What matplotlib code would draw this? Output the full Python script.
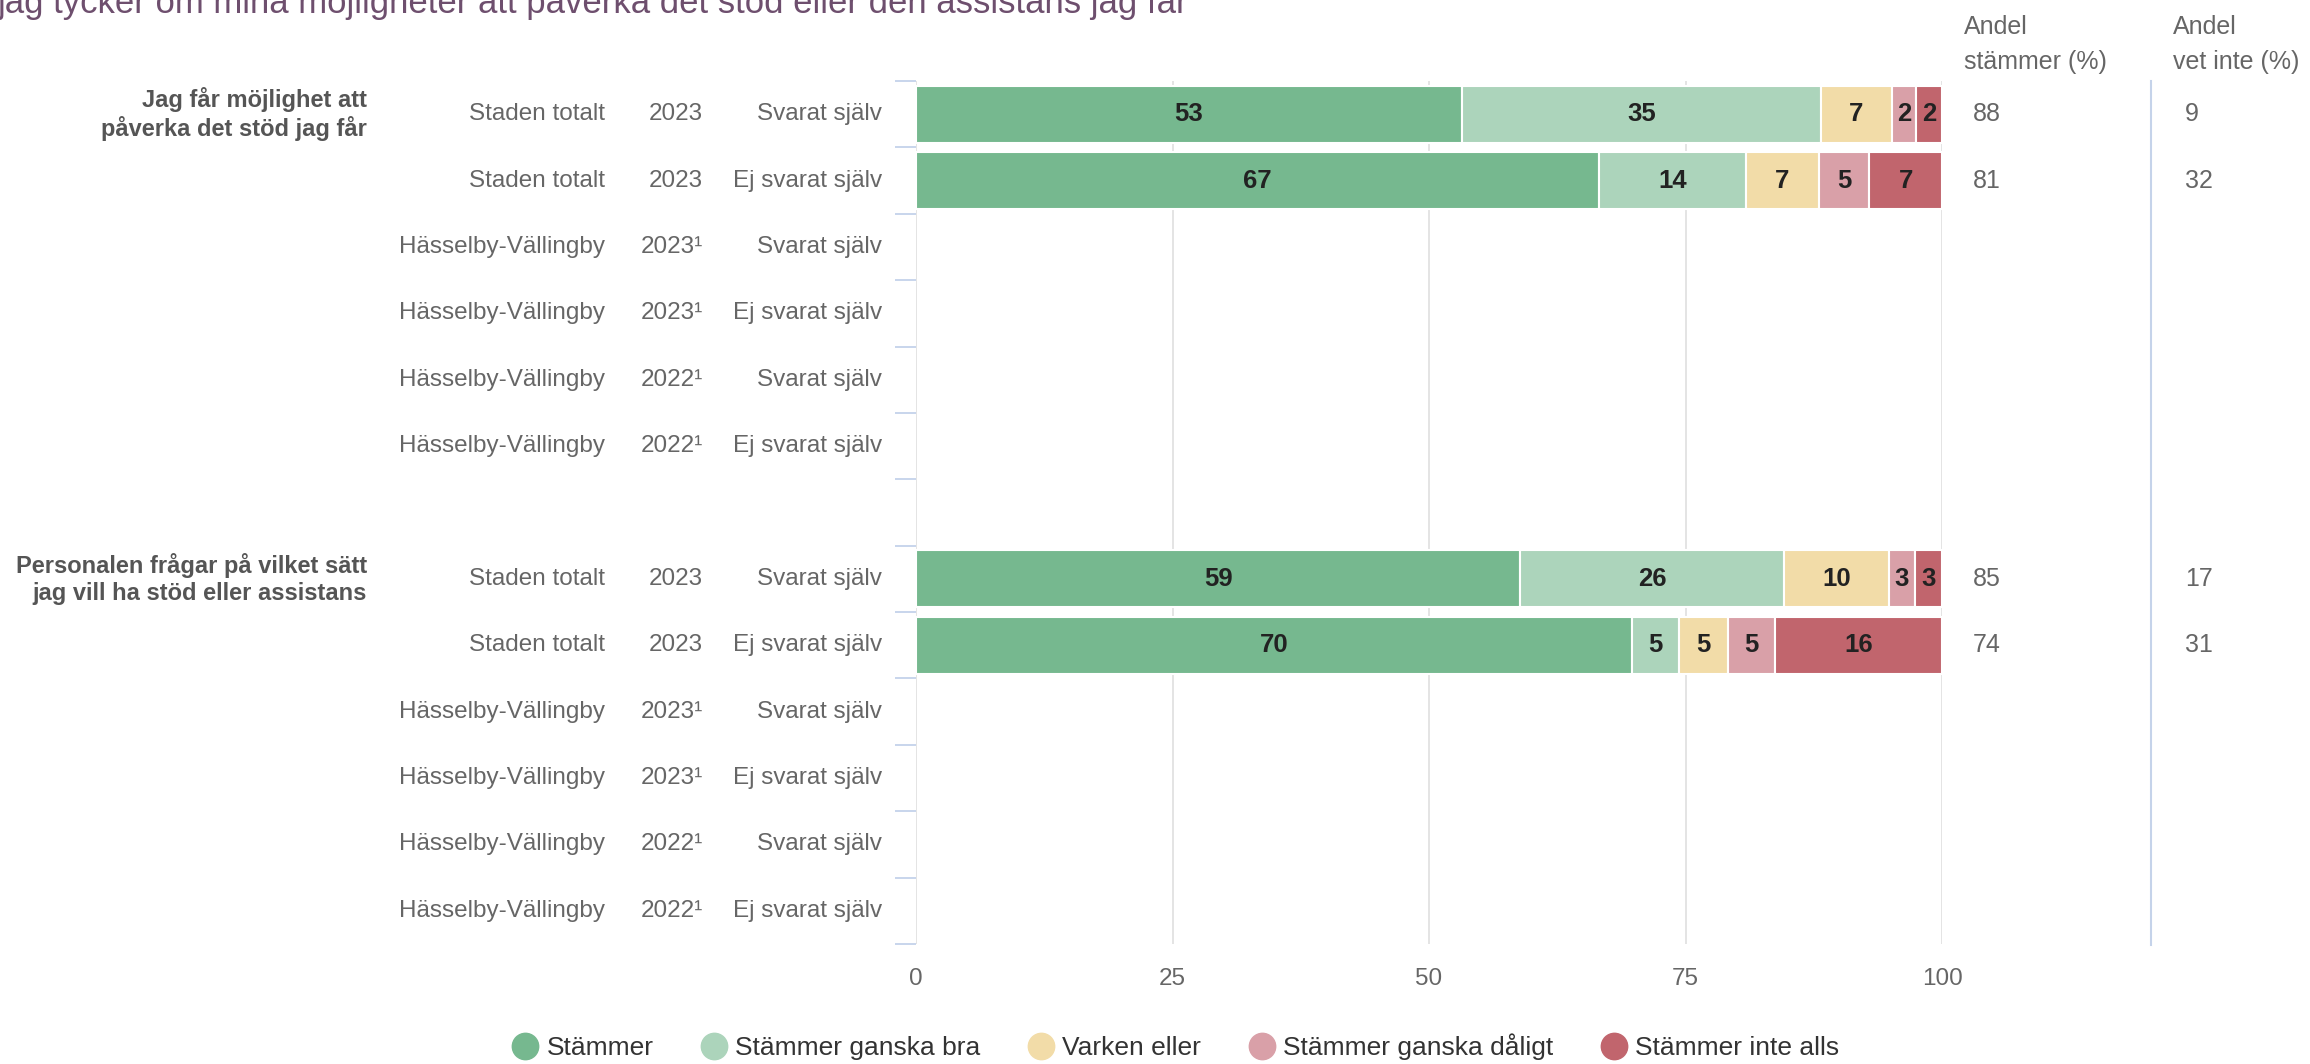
import numpy as np
import matplotlib
matplotlib.use("Agg")
import matplotlib.pyplot as plt
from matplotlib import transforms
from matplotlib.lines import Line2D

plt.rcParams["font.family"] = ["Liberation Sans", "DejaVu Sans"]

# data
title = "jag tycker om mina möjligheter att påverka det stöd eller den assistans jag får"
questions = ["Jag får möjlighet att\npåverka det stöd jag får",
             "Personalen frågar på vilket sätt\njag vill ha stöd eller assistans"]
areas = ["Staden totalt", "Staden totalt", "Hässelby-Vällingby", "Hässelby-Vällingby",
         "Hässelby-Vällingby", "Hässelby-Vällingby"]
years = ["2023", "2023", "2023¹", "2023¹", "2022¹", "2022¹"]
respondents = ["Svarat själv", "Ej svarat själv", "Svarat själv", "Ej svarat själv",
               "Svarat själv", "Ej svarat själv"]
categories = ["Stämmer", "Stämmer ganska bra", "Varken eller",
              "Stämmer ganska dåligt", "Stämmer inte alls"]
colors = ["#76b88f", "#acd4bb", "#f2dca8", "#d9a0a8", "#c1656d"]

# shares (%) per row, None = no data
q1_values = [[53.2, 35.0, 6.9, 2.4, 2.5],
             [66.6, 14.3, 7.1, 4.9, 7.1],
             None, None, None, None]
q2_values = [[58.9, 25.7, 10.2, 2.6, 2.6],
             [69.8, 4.6, 4.7, 4.6, 16.3],
             None, None, None, None]
q1_andel_stammer = [88, 81, None, None, None, None]
q2_andel_stammer = [85, 74, None, None, None, None]
q1_andel_vet_inte = [9, 32, None, None, None, None]
q2_andel_vet_inte = [17, 31, None, None, None, None]

values = [q1_values, q2_values]
andel_stammer = [q1_andel_stammer, q2_andel_stammer]
andel_vet_inte = [q1_andel_vet_inte, q2_andel_vet_inte]

W, H = 2310, 1064
fig = plt.figure(figsize=(W / 100, H / 100), dpi=100)
ax = fig.add_axes([916 / W, 1 - 944 / H, (1942 - 916) / W, (944 - 81) / H])

label_color = "#666666"
n_rows = len(areas)
slot = n_rows + 1  # one empty row between the groups
tr = transforms.blended_transform_factory(fig.transFigure, ax.transData)

for g, q in enumerate(questions):
    for i in range(n_rows):
        y = g * slot + i
        row = values[g][i]
        if row is not None:
            left = 0
            for v, c in zip(row, colors):
                ax.barh(y, v, left=left, height=0.86, color=c,
                        edgecolor="white", linewidth=1.5, zorder=3)
                ax.text(left + v / 2, y, f"{v:.0f}", ha="center", va="center",
                        fontsize=18.5, fontweight="bold", color="#222222", zorder=4)
                left += v
        # row labels
        ax.text(605 / W, y, areas[i], transform=tr, ha="right", va="center",
                fontsize=17.5, color=label_color)
        ax.text(703 / W, y, years[i], transform=tr, ha="right", va="center",
                fontsize=17.5, color=label_color)
        ax.text(882 / W, y, respondents[i], transform=tr, ha="right", va="center",
                fontsize=17.5, color=label_color)
        if andel_stammer[g][i] is not None:
            ax.text(1973 / W, y, str(andel_stammer[g][i]), transform=tr,
                    ha="left", va="center", fontsize=18, color=label_color)
        if andel_vet_inte[g][i] is not None:
            ax.text(2185 / W, y, str(andel_vet_inte[g][i]), transform=tr,
                    ha="left", va="center", fontsize=18, color=label_color)
    ax.text(367 / W, g * slot, q, transform=tr, ha="right", va="center",
            fontsize=17, fontweight="bold", color="#555555", linespacing=1.2)

ax.set_xlim(0, 100)
ax.set_ylim(2 * slot - 1 - 0.5, -0.5)
ax.set_xticks([0, 25, 50, 75, 100])
ax.set_yticks(np.arange(-0.5, 2 * slot - 1, 1))
ax.set_yticklabels([])
ax.tick_params(axis="x", length=0, pad=17, labelsize=17.5, labelcolor=label_color)
ax.tick_params(axis="y", length=15, width=1.4, color="#c8d5ec")
ax.grid(axis="x", color="#e4e4e4", linewidth=1.4)
ax.set_axisbelow(True)
for s in ax.spines.values():
    s.set_visible(False)

# title (cut at top, as in the source)
fig.text(-0.001, 1 - 13 / H, title, ha="left", va="baseline",
         fontsize=25, color="#6e4f6e")

# column headers
fig.text(1964 / W, 1 - 69 / H, "Andel\nstämmer (%)", ha="left", va="baseline",
         fontsize=18, color=label_color, linespacing=1.6)
fig.text(2173 / W, 1 - 69 / H, "Andel\nvet inte (%)", ha="left", va="baseline",
         fontsize=18, color=label_color, linespacing=1.6)
fig.add_artist(Line2D([2151 / W, 2151 / W], [1 - 81 / H, 1 - 945 / H],
                      transform=fig.transFigure, color="#c5d3ea", linewidth=1.5))

handles = [Line2D([], [], marker="o", linestyle="", markersize=19, color=c)
           for c in colors]
fig.legend(handles, categories, loc="center", bbox_to_anchor=(0.509, 0.016),
           ncol=5, frameon=False, fontsize=19, handlelength=1, handletextpad=0.3,
           columnspacing=1.8, labelcolor="#333333")

fig.savefig("out.png", dpi=100)
